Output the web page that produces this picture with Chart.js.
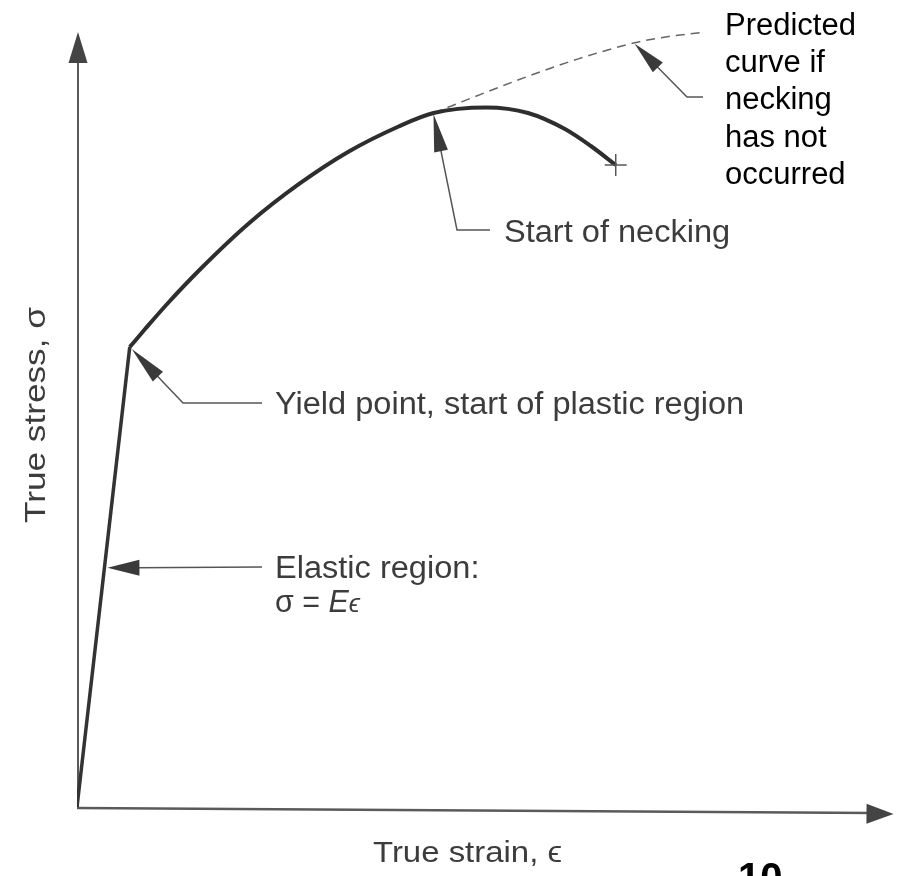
<!DOCTYPE html>
<html>
<head>
<meta charset="utf-8">
<script src="https://cdn.jsdelivr.net/npm/chart.js@4"></script>
<style>
body{margin:0;background:#fff;}
#wrap{width:906px;height:876px;position:relative;}
</style>
</head>
<body>
<div id="wrap"><canvas id="stressChart"></canvas></div>
<script>

// ===== data (strain / stress, arbitrary units) =====
let elasticStrain = [0, 6.46]
let elasticStress = [0, 59.35]

let plasticStrain = [6.46, 8.29, 10.98, 15.0, 21.1, 27.2, 33.29, 39.39, 43.66, 50.12, 55.24, 59.76, 62.93, 65.98]
let plasticStress = [59.35, 61.61, 64.84, 69.29, 75.35, 80.39, 84.58, 87.81, 89.55, 90.26, 89.55, 87.48, 85.29, 82.84]

let predictedStrain = [43.66, 54.0, 61.3, 68.3, 72.3, 76.3]
let predictedStress = [89.55, 93.8, 96.5, 98.6, 99.4, 99.9]

let xTitle = "True strain, \u03F5"
let yTitle = "True stress, \u03C3"
let noteLines = ["Predicted", "curve if", "necking", "has not", "occurred"]

function toPoints(xs, ys){
  return xs.map((x,i)=>({x:x, y:ys[i]}))
}

const FONT = '"Liberation Sans", Arial, Helvetica, sans-serif'
const GRAY_TEXT = "#3c3c3c"
const WIDEN = 1.05   // scan text is a touch wider than Arial

function arrowHead(ctx, tx, ty, fx, fy, len, half){
  let a = Math.atan2(ty-fy, tx-fx)
  let bx = tx - Math.cos(a)*len
  let by = ty - Math.sin(a)*len
  ctx.beginPath()
  ctx.moveTo(tx, ty)
  ctx.lineTo(bx + Math.sin(a)*half, by - Math.cos(a)*half)
  ctx.lineTo(bx - Math.sin(a)*half, by + Math.cos(a)*half)
  ctx.closePath()
  ctx.fill()
}

// text drawn with a horizontal scale factor
function wideText(ctx, text, x, y, sx, font, color){
  ctx.save()
  ctx.font = font
  ctx.fillStyle = color
  ctx.translate(x, y)
  ctx.scale(sx, 1)
  ctx.fillText(text, 0, 0)
  ctx.restore()
}

// text squeezed/stretched to a given width
function fitText(ctx, text, x, y, width, font, color){
  ctx.save()
  ctx.font = font
  let w = ctx.measureText(text).width
  ctx.restore()
  wideText(ctx, text, x, y, width / w, font, color)
}

// ===== axes with arrows =====
const axesPlugin = {
  id: "axesArrows",
  beforeDatasetsDraw(chart){
    let ctx = chart.ctx
    let xs = chart.scales.x, ys = chart.scales.y
    let x0 = xs.getPixelForValue(0), y0 = ys.getPixelForValue(0)
    let xEnd = xs.getPixelForValue(xs.max), yEnd = ys.getPixelForValue(ys.max)
    ctx.save()
    ctx.strokeStyle = "#5a5a5a"
    ctx.fillStyle = "#444"
    ctx.lineWidth = 2
    ctx.beginPath()
    ctx.moveTo(x0+1, y0)
    ctx.lineTo(x0+1, yEnd + 20)
    ctx.stroke()
    arrowHead(ctx, x0+1, yEnd, x0+1, y0, 31, 9.5)
    ctx.lineWidth = 2.5
    ctx.beginPath()
    ctx.moveTo(x0, y0 + 1)
    ctx.lineTo(xEnd - 20, y0 + 6)
    ctx.stroke()
    arrowHead(ctx, xEnd, y0 + 7, x0, y0 + 2, 27, 10)
    ctx.restore()
  }
}

// ===== labels and leader arrows =====
const notesPlugin = {
  id: "notes",
  afterDatasetsDraw(chart){
    let ctx = chart.ctx
    let xs = chart.scales.x, ys = chart.scales.y
    let px = (xv)=>xs.getPixelForValue(xv)
    let py = (yv)=>ys.getPixelForValue(yv)

    let leaders = [
      // tip on data, then elbow / end in pixels
      {tx:px(plasticStrain[0])+2, ty:py(plasticStress[0])+2, path:[[183,403],[262,403]], len:38, half:7},
      {tx:px(elasticStrain[1]*0.52)+3, ty:py(elasticStress[1]*0.52), path:[[262,567]], len:32, half:8},
      {tx:px(plasticStrain[8]), ty:py(plasticStress[8])+1, path:[[457,230],[490,230]], len:38, half:7},
      {tx:px(predictedStrain[3]), ty:py(predictedStress[3])+1, path:[[687,97],[703,97]], len:33, half:7}
    ]

    ctx.save()
    ctx.strokeStyle = "#555"
    ctx.fillStyle = "#3a3a3a"
    ctx.lineWidth = 1.5
    leaders.forEach(l=>{
      let first = l.path[0]
      let a = Math.atan2(l.ty-first[1], l.tx-first[0])
      ctx.beginPath()
      ctx.moveTo(l.tx - Math.cos(a)*(l.len-4), l.ty - Math.sin(a)*(l.len-4))
      l.path.forEach(p=>ctx.lineTo(p[0], p[1]))
      ctx.stroke()
      arrowHead(ctx, l.tx, l.ty, first[0], first[1], l.len, l.half)
    })
    ctx.restore()

    let f = "31px " + FONT
    wideText(ctx, "Start of necking", 504, 242, WIDEN, f, GRAY_TEXT)
    wideText(ctx, "Yield point, start of plastic region", 275, 414, WIDEN, f, GRAY_TEXT)
    wideText(ctx, "Elastic region:", 275, 578, WIDEN, f, GRAY_TEXT)

    // sigma = E epsilon
    ctx.save()
    ctx.fillStyle = GRAY_TEXT
    ctx.font = f
    let s1 = "\u03C3 = "
    let w1 = ctx.measureText(s1).width
    ctx.font = "italic 31px " + FONT
    let w2 = ctx.measureText("E").width
    ctx.font = "italic 26px " + FONT
    let w3 = ctx.measureText("\u03F5").width
    let k = 85 / (w1 + w2 + w3)
    ctx.translate(275, 612)
    ctx.scale(k, 1)
    ctx.font = f
    ctx.fillText(s1, 0, 0)
    ctx.font = "italic 31px " + FONT
    ctx.fillText("E", w1, 0)
    ctx.font = "italic 26px " + FONT
    ctx.fillText("\u03F5", w1 + w2, 0)
    ctx.restore()

    // axis titles
    fitText(ctx, xTitle, 373, 862, 189, "29px " + FONT, GRAY_TEXT)
    ctx.save()
    ctx.translate(45, 523)
    ctx.rotate(-Math.PI/2)
    fitText(ctx, yTitle, 0, 0, 216, "30px " + FONT, GRAY_TEXT)
    ctx.restore()

    // black note on the right
    ctx.save()
    ctx.fillStyle = "#000"
    ctx.font = "31px " + FONT
    noteLines.forEach((t,i)=>{
      ctx.fillText(t, 725, 35 + i*37.2)
    })
    ctx.font = "bold 40px " + FONT
    ctx.fillText("10", 738, 891)
    ctx.restore()
  }
}

let lastIdx = plasticStrain.length - 1

new Chart(document.getElementById("stressChart"), {
  type: "scatter",
  data: {
    datasets: [
      {
        label: "Elastic",
        data: toPoints(elasticStrain, elasticStress),
        showLine: true,
        borderColor: "#333",
        borderWidth: 3.5,
        pointRadius: 0
      },
      {
        label: "Plastic",
        data: toPoints(plasticStrain, plasticStress),
        showLine: true,
        cubicInterpolationMode: "monotone",
        borderColor: "#2e2e2e",
        borderWidth: 4,
        pointStyle: "cross",
        pointRadius: c => c.dataIndex === lastIdx ? 11 : 0,
        pointBorderColor: "#555",
        pointBorderWidth: 1.5
      },
      {
        label: "Predicted",
        data: toPoints(predictedStrain, predictedStress),
        showLine: true,
        cubicInterpolationMode: "monotone",
        borderColor: "#666",
        borderWidth: 1.5,
        borderDash: [9, 6],
        pointRadius: 0
      }
    ]
  },
  options: {
    responsive: true,
    maintainAspectRatio: false,
    animation: false,
    layout: {padding: {left: 77, right: 9, top: 32, bottom: 69}},
    plugins: {legend: {display: false}, tooltip: {enabled: false}},
    scales: {
      x: {type: "linear", min: 0, max: 100, display: false},
      y: {type: "linear", min: 0, max: 100, display: false}
    }
  },
  plugins: [axesPlugin, notesPlugin]
})

</script>
</body>
</html>
